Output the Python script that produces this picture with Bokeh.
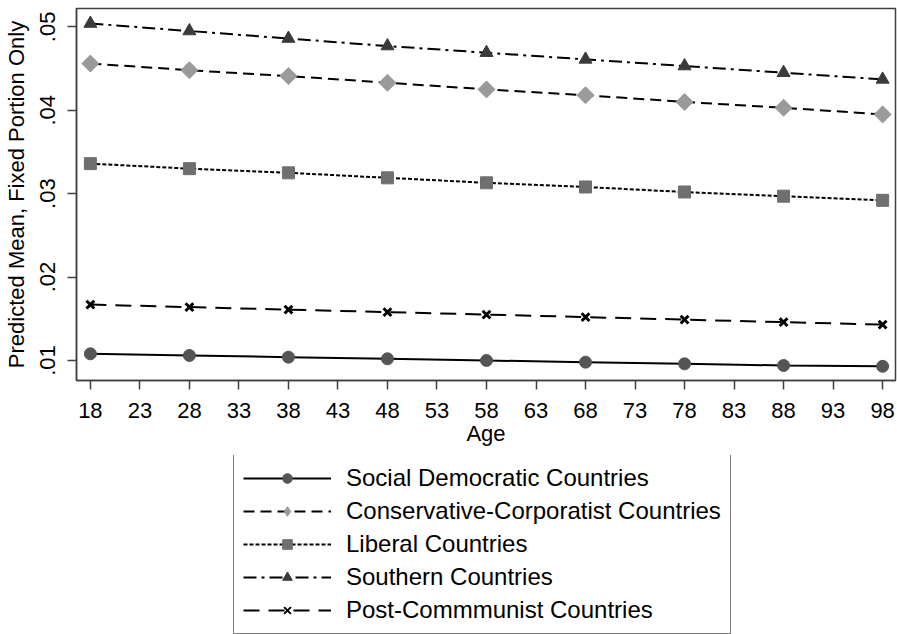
import math
from bokeh.plotting import figure
from bokeh.layouts import column
from bokeh.models import (FixedTicker, CustomJSTickFormatter, Legend, LegendItem,
                          ColumnDataSource, Range1d)
from bokeh.embed import file_html
from bokeh.resources import INLINE

ages = [18, 28, 38, 48, 58, 68, 78, 88, 98]
social = [0.0108, 0.0106, 0.0104, 0.0102, 0.0100, 0.0098, 0.0096, 0.0094, 0.0093]
conservative = [0.0456, 0.0448, 0.0441, 0.0433, 0.0425, 0.0418, 0.0410, 0.0403, 0.0395]
liberal = [0.0336, 0.0330, 0.0325, 0.0319, 0.0313, 0.0308, 0.0302, 0.0297, 0.0292]
southern = [0.0504, 0.0495, 0.0486, 0.0477, 0.0469, 0.0461, 0.0453, 0.0445, 0.0437]
postcomm = [0.0167, 0.0164, 0.0161, 0.0158, 0.0155, 0.0152, 0.0149, 0.0146, 0.0143]

x_ticks = list(range(18, 99, 5))
y_ticks = [0.01, 0.02, 0.03, 0.04, 0.05]

# name, values, dash, marker (chart), marker (legend), color, size, angle
series = [
    ("Social Democratic Countries", social, "solid", "circle", "circle", "#555555", 12, 0),
    ("Conservative-Corporatist Countries", conservative, "11 6", "square", "diamond", "#9a9a9a", 12, math.pi / 4),
    ("Liberal Countries", liberal, "4 2", "square", "square", "#6f6f6f", 12, 0),
    ("Southern Countries", southern, "13 5 3 5", "triangle", "triangle", "#3a3a3a", 13, 0),
    ("Post-Commmunist Countries", postcomm, "16 9", "x", "x", "#000000", 11, 0),
]

FONT = "Liberation Sans"

p = figure(width=897, height=455, output_backend="svg", toolbar_location=None,
           x_range=Range1d(16.6, 99.3), y_range=Range1d(0.0076, 0.0522),
           min_border_left=76, min_border_right=2, min_border_top=8, min_border_bottom=75)

# legend panel: a separate figure below the chart, its data kept out of view
lg = figure(width=897, height=179, output_backend="svg", toolbar_location=None,
            x_range=Range1d(0, 1), y_range=Range1d(0, 1),
            x_axis_location=None, y_axis_location=None,
            min_border_left=0, min_border_right=0, min_border_top=0, min_border_bottom=0)
lg.xgrid.visible = False
lg.ygrid.visible = False
lg.outline_line_color = None

items = []
for name, vals, dash, marker, lmarker, col, size, ang in series:
    src = ColumnDataSource(dict(x=ages, y=vals))
    p.line("x", "y", source=src, line_color="black", line_width=2, line_dash=dash)
    if marker == "x":
        p.scatter("x", "y", source=src, marker="x", size=size,
                  line_color="black", line_width=3)
    else:
        p.scatter("x", "y", source=src, marker=marker, size=size, angle=ang,
                  fill_color=col, line_color=col)
    l1 = lg.line("x", "y", source=src, line_color="black", line_width=2, line_dash=dash)
    if lmarker == "x":
        l2 = lg.scatter("x", "y", source=src, marker="x", size=9,
                        line_color="black", line_width=2)
    else:
        l2 = lg.scatter("x", "y", source=src, marker=lmarker,
                        size=15 if lmarker == "diamond" else 10,
                        fill_color=col, line_color=col)
    items.append(LegendItem(label=name, renderers=[l1, l2]))

p.xgrid.visible = False
p.ygrid.visible = False
p.outline_line_color = "#404040"
p.outline_line_width = 1.5

p.xaxis.ticker = FixedTicker(ticks=x_ticks)
p.yaxis.ticker = FixedTicker(ticks=y_ticks)
p.yaxis.formatter = CustomJSTickFormatter(code="return tick.toFixed(2).replace(/^0/, '');")
p.yaxis.major_label_orientation = "vertical"

for ax in (p.xaxis[0], p.yaxis[0]):
    ax.axis_line_color = "#404040"
    ax.axis_line_width = 1.5
    ax.major_tick_line_color = "#404040"
    ax.major_tick_line_width = 1.5
    ax.major_tick_out = 9
    ax.major_tick_in = 0
    ax.minor_tick_out = 0
    ax.minor_tick_in = 0
    ax.major_label_text_font = FONT
    ax.major_label_text_font_size = "22px"
    ax.major_label_text_color = "black"
    ax.axis_label_text_font = FONT
    ax.axis_label_text_font_size = "22px"
    ax.axis_label_text_font_style = "normal"
    ax.axis_label_text_color = "black"

p.xaxis.axis_label = "Age"
p.yaxis.axis_label = "Predicted Mean, Fixed Portion Only"
p.xaxis.major_label_standoff = 13
p.xaxis.axis_label_standoff = 0
p.yaxis.major_label_standoff = 12
p.yaxis.axis_label_standoff = 9

# the column aligns this figure's frame with the chart frame (left edge at 76px)
legend = Legend(items=items, location=(157, 0), orientation="vertical",
                label_text_font=FONT, label_text_font_size="24px", label_text_color="black",
                glyph_width=88, glyph_height=24, label_height=24,
                spacing=5, padding=9, label_standoff=15, margin=0,
                border_line_color="black", border_line_width=1.5,
                background_fill_color="white", background_fill_alpha=1.0)
lg.add_layout(legend, "center")

layout = column(p, lg, spacing=0)
open("out.html", "w").write(file_html(layout, INLINE))
